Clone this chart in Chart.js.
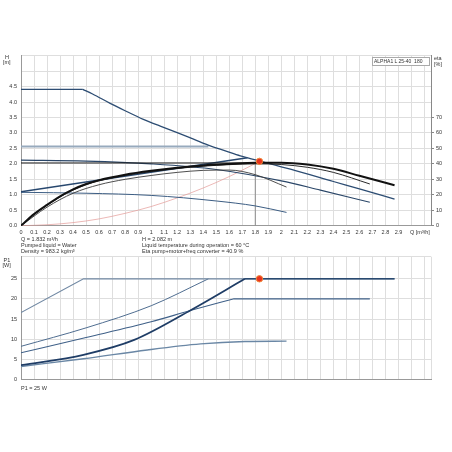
<!DOCTYPE html>
<html>
<head>
<meta charset="utf-8">
<script src="https://cdn.jsdelivr.net/npm/chart.js@4.4.1/dist/chart.umd.min.js"></script>
<style>
  body { margin: 0; background: #fff; font-family: "Liberation Sans", Arial, sans-serif; }
  #wrap { position: relative; width: 452px; height: 452px; overflow: hidden; background: #fff; }
  canvas { position: absolute; left: 0; }
  .t { position: absolute; font-size: 5.5px; line-height: 6px; color: #333; white-space: nowrap; }
  #legendBox { position: absolute; left: 371.5px; top: 57px; width: 55px; height: 7px; border: 1px solid #aaa;
               background: #fff; font-size: 5px; line-height: 7px; color: #333; padding-left: 1.5px; white-space: nowrap; }
</style>
</head>
<body>
<div id="wrap">
  <canvas id="headChart" width="452" height="240" style="top:0;width:452px;height:240px"></canvas>
  <canvas id="powerChart" width="452" height="160" style="top:240px;width:452px;height:160px"></canvas>

  <div class="t" style="left:5px;top:54px">H</div>
  <div class="t" style="left:3px;top:59px">[m]</div>
  <div class="t" style="left:434px;top:55px">eta</div>
  <div class="t" style="left:434px;top:60.5px">[%]</div>
  <div id="legendBox">ALPHA1 L 25-40&nbsp; 180</div>
  <div class="t" style="left:410px;top:228.5px">Q [m³/h]</div>

  <div class="t" style="left:21px;top:235.5px">Q = 1.832 m³/h</div>
  <div class="t" style="left:21px;top:241.5px">Pumped liquid = Water</div>
  <div class="t" style="left:21px;top:247.5px">Density = 983.2 kg/m³</div>
  <div class="t" style="left:142px;top:235.5px">H = 2.082 m</div>
  <div class="t" style="left:142px;top:241.5px">Liquid temperature during operation = 60 °C</div>
  <div class="t" style="left:142px;top:247.5px">Eta pump+motor+freq converter = 40.9 %</div>

  <div class="t" style="left:3.5px;top:257px">P1</div>
  <div class="t" style="left:2.5px;top:262px">[W]</div>
  <div class="t" style="left:21px;top:385px">P1 = 25 W</div>
</div>

<script>
// Axis ticks
const qGridTicks = [0, 0.1, 0.2, 0.3, 0.4, 0.5, 0.6, 0.7, 0.8, 0.9, 1.0, 1.1, 1.2, 1.3, 1.4, 1.5,
                    1.6, 1.7, 1.8, 1.9, 2.0, 2.1, 2.2, 2.3, 2.4, 2.5, 2.6, 2.7, 2.8, 2.9, 3.0, 3.1, 3.15];
const lastQLabel = 2.9;
const lastHLabel = 4.5;
const lastEtaLabel = 70;
const lastPLabel = 25;

// Duty point
const dutyQ = 1.832;
const dutyH = 2.082;
const dutyP = 25;
const dropQ = [1.8, 1.8];
const dropH = [0, 2.04];

// Head curves [m]
const maxFlatQ = [0, 0.475];
const maxFlatH = [4.41, 4.41];
const maxCurveQ = [0.475, 0.55, 0.685, 0.8, 0.94, 1.07, 1.2, 1.33, 1.454, 1.57, 1.685, 1.81, 2.07, 2.4, 2.6, 2.87];
const maxCurveH = [4.41, 4.26, 3.96, 3.72, 3.44, 3.22, 3.01, 2.79, 2.58, 2.42, 2.26, 2.12, 1.83, 1.43, 1.19, 0.86];
const cp3Q = [0, 1.44];
const cp3H = [2.56, 2.56];
const cp2Q = [0, 1.93];
const cp2H = [2.03, 2.03];
const ppQ = [0, 1.74];
const ppH = [1.1, 2.2];
const speed2Q = [0, 0.5, 1.0, 1.5, 2.0, 2.3, 2.68];
const speed2H = [2.12, 2.09, 2.0, 1.82, 1.45, 1.15, 0.76];
const speed1Q = [0, 0.5, 1.0, 1.5, 1.8, 2.04];
const speed1H = [1.08, 1.05, 0.98, 0.8, 0.64, 0.43];
const systemQ = [0, 0.2, 0.4, 0.6, 0.8, 1.0, 1.2, 1.4, 1.6, 1.832];
const systemH = [0, 0.03, 0.1, 0.22, 0.4, 0.62, 0.9, 1.22, 1.59, 2.08];

// Efficiency curves [%]
const eta3Q = [0, 0.1, 0.2, 0.3, 0.4, 0.5, 0.6, 0.8, 1.0, 1.2, 1.4, 1.6, 1.8, 2.0, 2.2, 2.4, 2.6, 2.87];
const eta3 = [0, 7.5, 13.5, 19, 23.5, 27, 29.5, 33, 35.5, 37.5, 39, 40, 40.8, 40.8, 39.6, 36.8, 32.3, 26.2];
const eta2Q = [0, 0.1, 0.2, 0.3, 0.4, 0.5, 0.6, 0.8, 1.0, 1.2, 1.4, 1.6, 1.8, 2.0, 2.2, 2.4, 2.68];
const eta2 = [0, 7.3, 13.2, 18.6, 23, 26.5, 29, 32.5, 35, 37, 38.5, 39.5, 40, 39.6, 37.8, 34.5, 27];
const eta1Q = [0, 0.2, 0.4, 0.6, 0.8, 1.0, 1.2, 1.4, 1.6, 1.8, 2.04];
const eta1 = [0, 12, 21, 26.5, 30, 32.5, 34.5, 35.8, 36, 33, 25];

// Power curves [W]
const pMaxQ = [0, 0.48, 2.87];
const pMax = [16.6, 25, 25];
const pCp3Q = [0, 0.5, 1.0, 1.44];
const pCp3 = [8.2, 12.8, 18.3, 25];
const pSpeed2Q = [0, 0.5, 1.0, 1.3, 1.63];
const pSpeed2 = [6.6, 10.4, 14.3, 17.1, 20];
const pSpeed2FlatQ = [1.63, 2.68];
const pSpeed2Flat = [20, 20];
const pPpQ = [0, 0.48, 0.87, 1.31, 1.72];
const pPp = [3.5, 6.1, 9.8, 17.3, 25];
const pPpFlatQ = [1.72, 2.87];
const pPpFlat = [25, 25];
const pSpeed1Q = [0, 0.48, 0.97, 1.38, 1.72, 2.04];
const pSpeed1 = [3.2, 5.1, 7.3, 8.8, 9.4, 9.5];

const gridColor = "#dedede";
const axisColor = "#999";
const tickFont = { family: "Liberation Sans", size: 5.5 };

const pts = (xs, ys) => xs.map((x, i) => ({ x: x, y: ys[i] }));

function line(xs, ys, color, width, smooth, axis) {
    return {
        data: pts(xs, ys),
        borderColor: color,
        borderWidth: width,
        pointRadius: 0,
        fill: false,
        yAxisID: axis || "y",
        cubicInterpolationMode: smooth ? "monotone" : "default",
        tension: 0
    };
}

function dot(x, y) {
    return {
        data: [{ x: x, y: y }],
        showLine: false,
        pointRadius: 3.2,
        pointBackgroundColor: "#e8321e",
        pointBorderColor: "#f08a3a",
        pointBorderWidth: 1,
        order: -1
    };
}

const qAxis = (height, showLabels) => ({
    type: "linear",
    min: 0,
    max: 3.15,
    afterBuildTicks: s => { s.ticks = qGridTicks.map(v => ({ value: v })); },
    afterFit: s => { s.height = height; },
    grid: { color: gridColor, drawTicks: false },
    border: { color: axisColor },
    ticks: {
        display: showLabels,
        font: tickFont,
        color: "#333",
        padding: 3,
        maxRotation: 0,
        autoSkip: false,
        callback: v => v <= lastQLabel + 1e-9 ? String(+v.toFixed(1)) : ""
    }
});

// Head / efficiency chart
new Chart(document.getElementById("headChart"), {
    type: "line",
    data: {
        datasets: [
            dot(dutyQ, dutyH),
            line(eta3Q, eta3, "#111", 2, true, "y1"),
            line(eta2Q, eta2, "#2a2a2a", 1, true, "y1"),
            line(eta1Q, eta1, "#3a3a3a", 0.9, true, "y1"),
            line(maxFlatQ, maxFlatH, "#2d4d73", 1.2, false),
            line(maxCurveQ, maxCurveH, "#2d4d73", 1.3, true),
            line(cp3Q, cp3H, "#97aabd", 2, false),
            line(cp2Q, cp2H, "#1c1c1c", 1, false),
            line(ppQ, ppH, "#27476e", 1.5, false),
            line(speed2Q, speed2H, "#2a4668", 1.1, true),
            line(speed1Q, speed1H, "#3c5d83", 1, true),
            line(systemQ, systemH, "#e49a96", 0.7, true),
            line(dropQ, dropH, "#8c8c8c", 1, false)
        ]
    },
    options: {
        responsive: false,
        animation: false,
        layout: { padding: { top: 55.7, left: 0, right: 0, bottom: 0 } },
        plugins: { legend: { display: false }, tooltip: { enabled: false } },
        scales: {
            x: qAxis(14.3, true),
            y: {
                min: 0,
                max: 5.5,
                afterFit: s => { s.width = 21; },
                grid: { color: gridColor, drawTicks: false },
                border: { color: axisColor },
                ticks: {
                    stepSize: 0.5,
                    font: tickFont,
                    color: "#333",
                    padding: 4,
                    callback: v => v <= lastHLabel ? v.toFixed(1) : ""
                }
            },
            y1: {
                position: "right",
                min: 0,
                max: 110,
                afterFit: s => { s.width = 21; },
                grid: {
                    drawOnChartArea: false,
                    tickLength: 3,
                    color: c => (c.tick && c.tick.value > lastEtaLabel) ? "rgba(0,0,0,0)" : "#888"
                },
                border: { color: "#888" },
                ticks: {
                    stepSize: 10,
                    font: tickFont,
                    color: "#333",
                    padding: 2,
                    callback: v => v <= lastEtaLabel ? v : ""
                }
            }
        }
    }
});

// Power chart
new Chart(document.getElementById("powerChart"), {
    type: "line",
    data: {
        datasets: [
            dot(dutyQ, dutyP),
            line(pPpQ, pPp, "#1f3d66", 1.8, true),
            line(pPpFlatQ, pPpFlat, "#2a4a70", 1.6, false),
            line(pMaxQ, pMax, "#7088a3", 1.2, false),
            line(pCp3Q, pCp3, "#4f6d90", 1, true),
            line(pSpeed2Q, pSpeed2, "#3f6088", 1.1, true),
            line(pSpeed2FlatQ, pSpeed2Flat, "#3f6088", 1.1, false),
            line(pSpeed1Q, pSpeed1, "#6a87a5", 1.4, true)
        ]
    },
    options: {
        responsive: false,
        animation: false,
        layout: { padding: { top: 16.7, left: 0, right: 21, bottom: 0 } },
        plugins: { legend: { display: false }, tooltip: { enabled: false } },
        scales: {
            x: qAxis(20.7, false),
            y: {
                min: 0,
                max: 30.5,
                afterFit: s => { s.width = 21; },
                grid: { color: gridColor, drawTicks: false },
                border: { color: axisColor },
                ticks: {
                    stepSize: 5,
                    font: tickFont,
                    color: "#333",
                    padding: 4,
                    callback: v => v <= lastPLabel ? v : ""
                }
            }
        }
    }
});
</script>
</body>
</html>
